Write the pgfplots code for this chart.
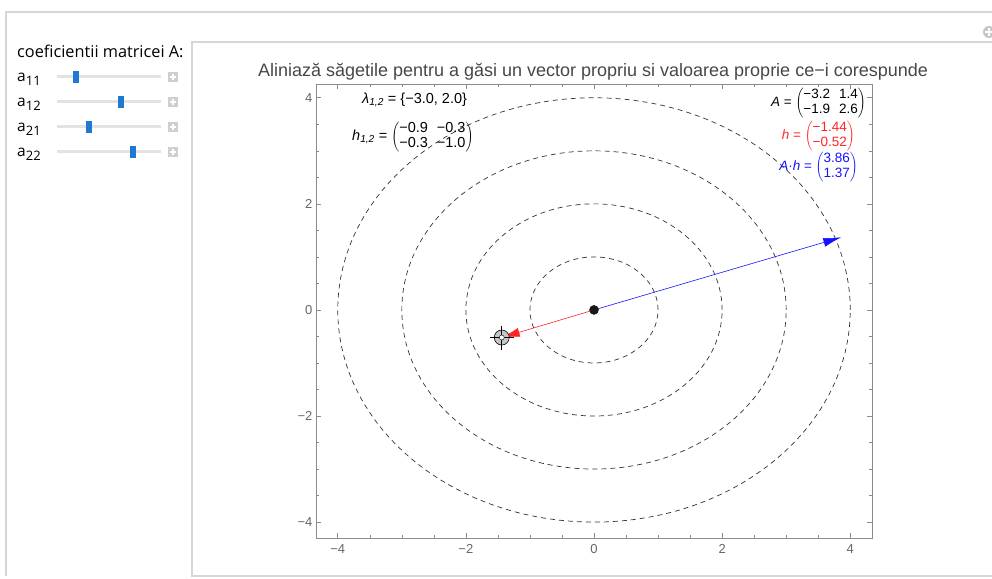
\documentclass[border=0pt]{standalone}
\usepackage{pgfplots}
\pgfplotsset{compat=1.18}
\usetikzlibrary{arrows.meta}
\usepackage{fontspec}
\setmainfont{Liberation Sans}
\newfontfamily\uifont{Open Sans}
\definecolor{framegray}{HTML}{8C8C8C}
\definecolor{labgray}{HTML}{666666}
\definecolor{panelgray}{HTML}{D6D6D6}
\definecolor{thumbblue}{HTML}{1F78D1}
\definecolor{arrblue}{HTML}{1414FF}
\definecolor{arrred}{HTML}{FF2424}
\newcommand{\slider}[3]{%
  \node[anchor=base west, inner sep=0, font=\uifont\fontsize{15.5}{17}\selectfont] at (17,#1-5) {a\raisebox{-4pt}{\fontsize{13}{14}\selectfont #2}};
  \draw[gray!22, line width=3pt] (57,#1) -- (161,#1);
  \fill[thumbblue] (#3-3,#1-6) rectangle (#3+3,#1+6);
  \fill[gray!38] (168,#1-5) rectangle (178,#1+5);
  \draw[white, line width=1.3pt] (170,#1) -- (176,#1) (173,#1-3) -- (173,#1+3);
}
\begin{document}
\begin{tikzpicture}[x=1pt,y=1pt]
\useasboundingbox (0,0) rectangle (992,578);
% outer frame
\draw[panelgray, line width=1.5pt] (6,2) -- (6,566) -- (992,566);
% inner panel
\draw[panelgray, line width=2pt] (992,536) -- (192,536) -- (192,2) -- (992,2);
% plus icon
\fill[gray!45] (989,546) circle (6);
\draw[white, line width=1.5pt] (985,546) -- (992,546) (989,542) -- (989,550);
% left controls
\node[anchor=base west, inner sep=0, font=\uifont\fontsize{16.3}{18}\selectfont] at (17,520) {coeficientii matricei A:};
\slider{501}{11}{76}
\slider{476}{12}{121}
\slider{451}{21}{89}
\slider{426}{22}{133}

\begin{axis}[at={(316pt,40pt)}, anchor=south west, scale only axis,
  width=556pt, height=454pt,
  xmin=-4.34, xmax=4.34, ymin=-4.30, ymax=4.26,
  xtick={-4,-2,0,2,4}, ytick={-4,-2,0,2,4},
  xticklabels={−4,−2,0,2,4}, yticklabels={−4,−2,0,2,4},
  minor tick num=3, tick align=inside,
  major tick length=5pt, minor tick length=3pt,
  axis line style={framegray, line width=0.8pt},
  every tick/.style={framegray, line width=0.6pt},
  tick label style={labgray, font=\fontsize{13}{14}\selectfont},
  xticklabel style={yshift=-3pt},
  clip=false]
\draw[black!80, line width=0.7pt, dash pattern=on 5pt off 4pt] (axis cs:0,0) ellipse [x radius=1, y radius=1];
\draw[black!80, line width=0.7pt, dash pattern=on 5pt off 4pt] (axis cs:0,0) ellipse [x radius=2, y radius=2];
\draw[black!80, line width=0.7pt, dash pattern=on 5pt off 4pt] (axis cs:0,0) ellipse [x radius=3, y radius=3];
\draw[black!80, line width=0.7pt, dash pattern=on 5pt off 4pt] (axis cs:0,0) ellipse [x radius=4, y radius=4];
% locator
\addplot[only marks, mark=*, mark size=7.5pt, mark options={fill=gray!45, draw=black, line width=0.6pt}] coordinates {(-1.44,-0.52)};
\addplot[only marks, mark=+, mark size=12pt, mark options={black, line width=0.6pt}] coordinates {(-1.44,-0.52)};
\addplot[only marks, mark=*, mark size=2.5pt, mark options={fill=white, draw=none}] coordinates {(-1.44,-0.52)};
% arrows
\addplot[arrblue, line width=0.6pt, -{Latex[length=18pt,width=9pt]}] coordinates {(0,0) (3.86,1.37)};
\addplot[arrred, line width=0.6pt, -{Latex[length=18pt,width=9pt]}] coordinates {(0,0) (-1.44,-0.52)};
% origin dot
\addplot[only marks, mark=*, mark size=4.5pt, mark options={fill=black!90, draw=black}] coordinates {(0,0)};
\end{axis}

% title
\node[font=\fontsize{18}{20}\selectfont, text=black!72, inner sep=0] at (593,506) {Aliniază săgetile pentru a găsi un vector propriu si valoarea proprie ce−i corespunde};

\renewcommand{\arraystretch}{1.0}
\node[anchor=west, inner sep=0, font=\fontsize{14.5}{15}\selectfont] at (362,478) {\textit{λ}\textsubscript{\textit{1,2}} = \{−3.0, 2.0\}};
\node[anchor=west, inner sep=0, font=\fontsize{14.5}{15}\selectfont] at (352,441) {\textit{h}\textsubscript{\textit{1,2}} = $\left(\begin{tabular}{@{}r@{\hspace{9pt}}r@{}}−0.9 & −0.3\\ −0.3 & −1.0\end{tabular}\right)$};
\renewcommand{\arraystretch}{1.0}
\node[anchor=east, inner sep=0, font=\fontsize{13.5}{15.5}\selectfont] at (866,475) {\textit{A} = $\left(\begin{tabular}{@{}r@{\hspace{9pt}}r@{}}−3.2 & 1.4\\ −1.9 & 2.6\end{tabular}\right)$};
\node[anchor=east, inner sep=0, font=\fontsize{13.5}{15.5}\selectfont, text=arrred] at (855,442) {\textit{h} = $\left(\begin{tabular}{@{}r@{}}−1.44\\ −0.52\end{tabular}\right)$};
\node[anchor=east, inner sep=0, font=\fontsize{13.5}{15.5}\selectfont, text=arrblue] at (858,411) {\textit{A·h} = $\left(\begin{tabular}{@{}r@{}}3.86\\ 1.37\end{tabular}\right)$};
\end{tikzpicture}
\end{document}
